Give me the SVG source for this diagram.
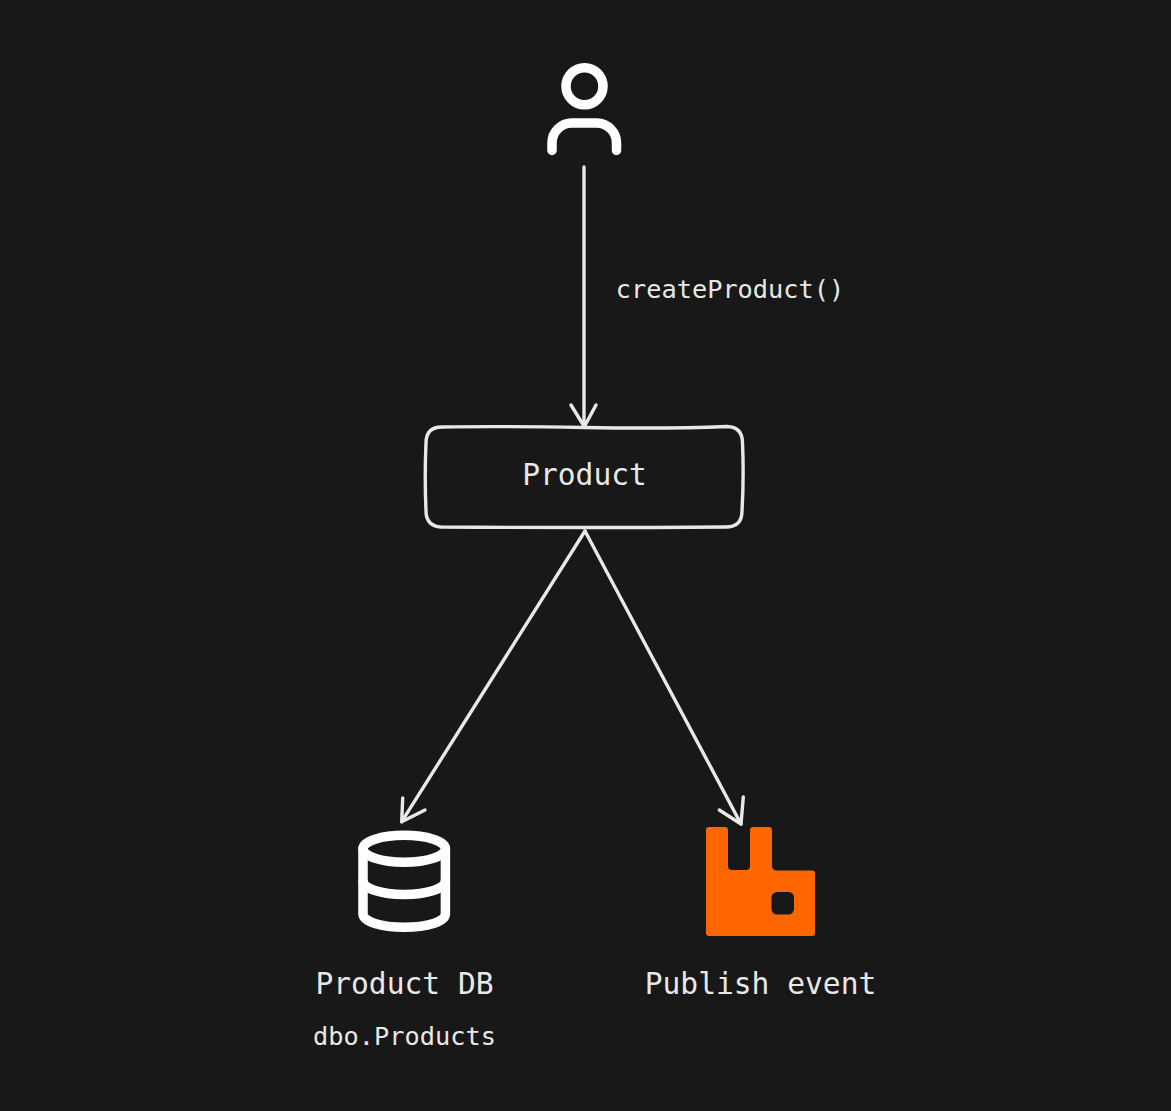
<svg xmlns="http://www.w3.org/2000/svg" width="1171" height="1111" viewBox="0 0 1171 1111">
  <style>
    .ink { fill: none; stroke: #ffffff; stroke-width: 9.5; stroke-linecap: round; stroke-linejoin: round; }
    .sketch { fill: none; stroke: #e8e8e8; stroke-width: 3.4; stroke-linecap: round; stroke-linejoin: round; }
    text { font-family: "DejaVu Sans Mono", "Liberation Mono", monospace; fill: #e8e8e8; }
    .big { font-size: 29.6px; }
    .small { font-size: 25.3px; }
  </style>
  <rect width="1171" height="1111" fill="#181818"/>
  <g id="connectors">
    <path class="sketch" d="M584 167 L584 426"/>
    <path class="sketch" d="M571 405 L584.3 426.700 L596 405"/>
    <path class="sketch" d="M585 531 L401.700 821.700"/>
    <path class="sketch" d="M402.700 798 L401.700 821.700 L425 810"/>
    <path class="sketch" d="M585 531 L741 824"/>
    <path class="sketch" d="M719.300 810 L741 824 L743.300 797"/>
  </g>
  <g id="user">
    <circle class="ink" cx="584.500" cy="86.200" r="18.500"/>
    <path class="ink" d="M552 150.500 V143 a20 20 0 0 1 20 -20 h25 a20 20 0 0 1 19.500 20 V150.500"/>
  </g>
  <g id="product">
    <path class="sketch" d="M442 427 Q500 426 584 427.500 T727 426.500 Q742.500 427 742.500 443 Q744 477 742 511 Q742 527 726 527 Q584 528 441 527 Q426 526 426 511 Q424.500 477 426 443 Q426 427 442 427 Z"/>
    <text class="big" x="584.500" y="484.500" text-anchor="middle">Product</text>
  </g>
  <g id="label-create">
    <text class="small" x="730" y="298" text-anchor="middle">createProduct()</text>
  </g>
  <g id="product-db">
    <ellipse class="ink" cx="404.200" cy="848.700" rx="41.200" ry="13.500"/>
    <path class="ink" d="M363 848.700 V914 C363 921.500 381 927.200 404.200 927.200 C427.500 927.200 445.400 921.500 445.400 914 V848.700"/>
    <path class="ink" d="M363 881 C363 888.500 381 894.500 404.200 894.500 C427.500 894.500 445.400 888.500 445.400 881"/>
    <text class="big" x="404.500" y="993.500" text-anchor="middle">Product DB</text>
    <text class="small" x="404.500" y="1045" text-anchor="middle">dbo.Products</text>
  </g>
  <g id="publish-event">
    <path fill-rule="evenodd" fill="#ff6600" d="M709 827 H725 a3 3 0 0 1 3 3 V866 a4 4 0 0 0 4 4 H746 a4 4 0 0 0 4 -4 V830 a3 3 0 0 1 3 -3 H769 a3 3 0 0 1 3 3 V866 a4.500 4.500 0 0 0 4.500 4.500 H812 a3 3 0 0 1 3 3 V933 a3 3 0 0 1 -3 3 H709 a3 3 0 0 1 -3 -3 V830 a3 3 0 0 1 3 -3 Z M777 892 a5.500 5.500 0 0 0 -5.500 5.500 V909 a5.500 5.500 0 0 0 5.500 5.500 H788.500 a5.500 5.500 0 0 0 5.500 -5.500 V897.500 a5.500 5.500 0 0 0 -5.500 -5.500 Z"/>
    <text class="big" x="760.500" y="993.500" text-anchor="middle">Publish event</text>
  </g>
</svg>
